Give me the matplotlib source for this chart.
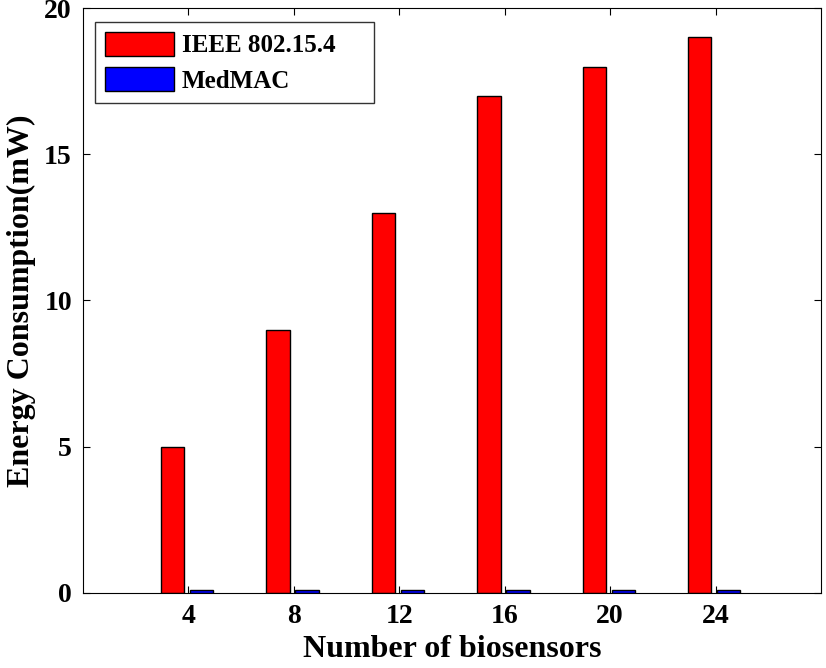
import numpy as np
import matplotlib.pyplot as plt

plt.rcParams['font.family'] = 'Liberation Serif'
plt.rcParams['font.weight'] = 'bold'

# data
sensors = [4, 8, 12, 16, 20, 24]
ieee = [5, 9, 13, 17, 18, 19]
medmac = [0.1, 0.1, 0.1, 0.1, 0.1, 0.1]

fig = plt.figure(figsize=(8.26, 6.68), dpi=100)
ax = fig.add_axes([0.1005, 0.1123, 0.8935, 0.8757])

x = np.array(sensors)
w = 0.88
ax.bar(x - 0.6, ieee, width=w, color='#ff0000', edgecolor='black', linewidth=1, label='IEEE 802.15.4')
ax.bar(x + 0.5, medmac, width=w, color='#0000ff', edgecolor='black', linewidth=1, label='MedMAC')

ax.set_xlim(0, 28)
ax.set_ylim(0, 20)
ax.set_xticks(sensors)
ax.set_yticks([0, 5, 10, 15, 20])
ax.tick_params(direction='in', top=True, right=True, labelsize=20, length=5, pad=8)
for lab in ax.get_xticklabels() + ax.get_yticklabels():
	lab.set_fontweight('bold')

ax.set_xlabel('Number of biosensors', fontsize=23, fontweight='bold', labelpad=4)
ax.set_ylabel('Energy Consumption(mW)', fontsize=23, fontweight='bold', labelpad=6)

# legend box stretched to the width seen in the reference
leg = ax.legend(loc='upper left', bbox_to_anchor=(0.0163, 0.0, 0.378, 0.976), mode='expand',
				borderaxespad=0, fontsize=18, fancybox=False, edgecolor='black',
				handlelength=2.76, handleheight=1.08, handletextpad=0.3,
				borderpad=0.4, labelspacing=0.4)
leg.get_frame().set_linewidth(1)
for t in leg.get_texts():
	t.set_fontweight('bold')

fig.savefig('out.png', dpi=100)
